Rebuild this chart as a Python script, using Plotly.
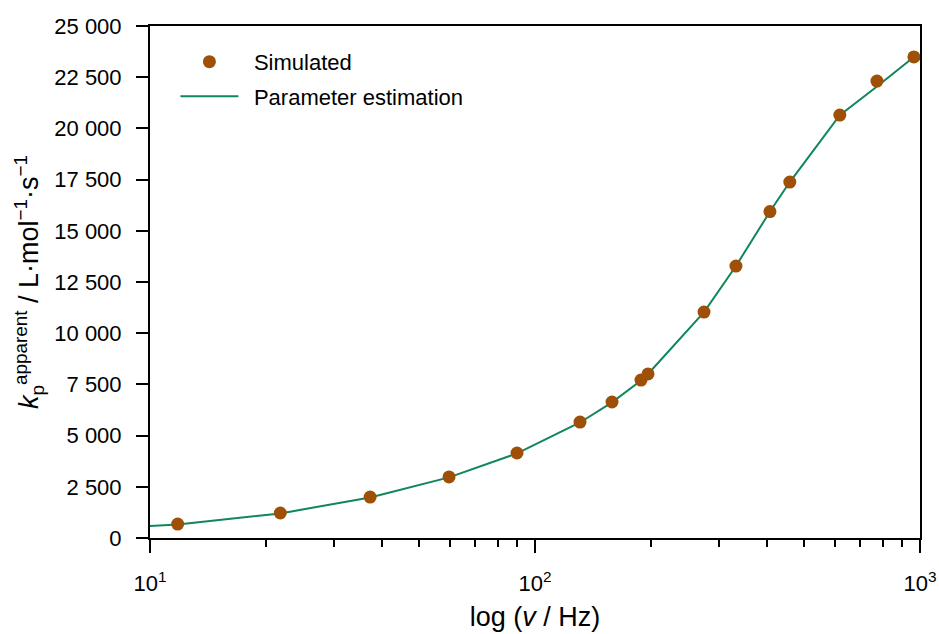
import plotly.graph_objects as go

# Simulated data points (frequency in Hz, apparent kp in L/mol/s)
sim_freq = [11.8, 21.8, 37.3, 59.8, 89.8, 130.9, 158.5, 188.5, 196.6, 274.8, 332.6, 407.6, 459, 619, 773, 964]
sim_kp = [680, 1220, 2000, 2980, 4150, 5660, 6640, 7710, 8010, 11030, 13280, 15940, 17380, 20650, 22310, 23490]

# Parameter-estimation curve
fit_freq = [10, 11.8, 21.8, 37.3, 59.8, 89.8, 130.9, 158.5, 188.5, 196.6, 274.8, 332.6, 407.6, 459, 619, 773, 964]
fit_kp = [580, 660, 1200, 1980, 2960, 4130, 5640, 6620, 7690, 8010, 11030, 13280, 15940, 17380, 20650, 22050, 23490]

y_tick_vals = [0, 2500, 5000, 7500, 10000, 12500, 15000, 17500, 20000, 22500, 25000]
y_tick_text = ["0", "2 500", "5 000", "7 500", "10 000", "12 500", "15 000", "17 500", "20 000", "22 500", "25 000"]
x_tick_vals = [10, 100, 1000]
x_tick_text = ["10<sup>1</sup>", "10<sup>2</sup>", "10<sup>3</sup>"]
x_minor_vals = [20, 30, 40, 50, 60, 70, 80, 90, 200, 300, 400, 500, 600, 700, 800, 900]

pad = "\u00a0\u2009"
fig = go.Figure()
fig.add_trace(go.Scatter(
    x=fit_freq, y=fit_kp, mode="lines", name=pad + "Parameter estimation",
    line=dict(color="#0F875A", width=2), legendgroup="b", legendrank=2))
fig.add_trace(go.Scatter(
    x=sim_freq, y=sim_kp, mode="markers", name=pad + "Simulated",
    marker=dict(color="#9F5008", size=13), legendgroup="a", legendrank=1))

font = "Liberation Sans, Arial, sans-serif"
fig.update_layout(
    width=939, height=634,
    margin=dict(l=150, r=19, t=26, b=96),
    plot_bgcolor="white", paper_bgcolor="white",
    font=dict(family=font, size=22, color="black"),
    showlegend=True,
    legend=dict(x=0.033, y=0.971, xanchor="left", yanchor="top",
                font=dict(size=22), itemwidth=58, tracegroupgap=3,
                bgcolor="rgba(0,0,0,0)"),
    xaxis=dict(
        type="log", range=[1, 3],
        tickvals=x_tick_vals, ticktext=x_tick_text,
        ticks="outside", ticklen=13, tickwidth=1.5, tickcolor="black",
        minor=dict(tickvals=x_minor_vals, ticks="outside", ticklen=7, tickwidth=1.5, tickcolor="black"),
        showline=True, linewidth=2, linecolor="black", mirror=True,
        showgrid=False, zeroline=False, automargin=False,
        tickfont=dict(size=22), ticklabelstandoff=12,
        title=dict(text="log (<i>v</i> / Hz)", font=dict(size=27), standoff=12),
    ),
    yaxis=dict(
        range=[0, 25000],
        tickvals=y_tick_vals, ticktext=y_tick_text,
        ticks="outside", ticklen=12, tickwidth=1.5, tickcolor="black",
        showline=True, linewidth=2, linecolor="black", mirror=True,
        showgrid=False, zeroline=False, automargin=False,
        tickfont=dict(size=22), ticklabelstandoff=10,
        title=dict(text="<i>k</i><sub>p</sub><sup>apparent</sup> / L·mol<sup>−1</sup>·s<sup>−1</sup>",
                   font=dict(size=27), standoff=8),
    ),
)

fig.write_html("out.html", config={"displayModeBar": False},
               post_script="document.body.style.margin='0px';")
